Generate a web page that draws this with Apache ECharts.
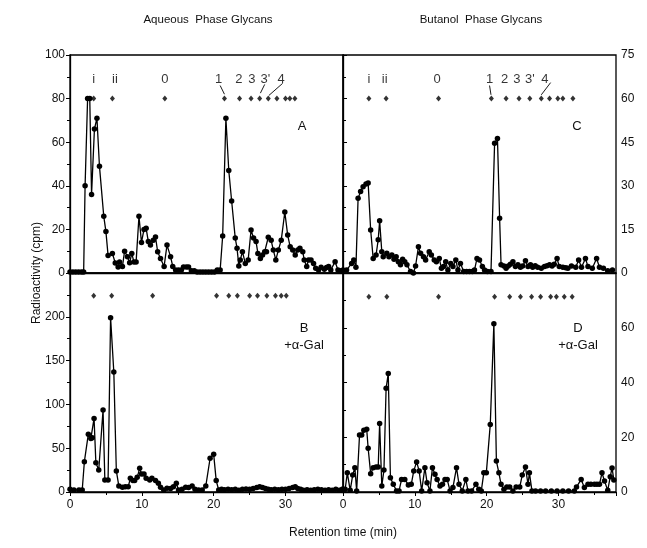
<!DOCTYPE html>
<html>
<head>
<meta charset="utf-8">
<script src="https://cdn.jsdelivr.net/npm/echarts@6/dist/echarts.min.js"></script>
<style>
  html, body { margin: 0; padding: 0; background: #fff; }
  #chart { width: 647px; height: 548px; }
</style>
</head>
<body>
<div id="chart"></div>
<script>
// retention time (min) / radioactivity (cpm) pairs
var aqueous = [[0,0.5],[0.4,0.5],[0.8,0.5],[1.2,0.5],[1.6,0.5],[1.9,0.5],[2.1,40],[2.45,80],[2.75,80],[3.0,36],[3.4,66],[3.75,71],
  [4.1,49],[4.7,26],[5.0,19],[5.3,8],[5.9,9],[6.3,4.6],[6.7,2.8],[6.9,5],[7.3,3],[7.6,10],[8.0,7.5],[8.3,4.7],[8.6,9],[8.9,5],
  [9.2,5],[9.6,26],[9.95,14],[10.3,20],[10.6,20.5],[10.9,14.4],[11.2,12.8],[11.6,15],[11.9,16.5],[12.2,9.8],[12.6,6.7],[13.1,3],
  [13.5,12.8],[14.0,7.5],[14.3,3],[14.7,1.4],[15.1,1.4],[15.5,1.4],[15.8,2.7],[16.2,2.7],[16.5,2.7],[16.9,1],[17.3,1],[17.7,0.5],
  [18.1,0.5],[18.5,0.5],[18.9,0.5],[19.3,0.5],[19.7,0.5],[20.1,0.5],[20.5,1.4],[20.9,1.4],[21.25,17],[21.7,71],[22.1,47],[22.5,33],
  [23.0,16],[23.25,11.4],[23.5,3.2],[23.7,6],[24.0,9.8],[24.4,4.4],[24.8,6],[25.2,19.7],[25.55,16],[25.9,14.4],[26.15,9],[26.5,6.7],
  [26.8,8.3],[27.1,9.8],[27.35,9.8],[27.6,16.4],[28.0,15],[28.3,10.5],[28.65,6],[29.0,10.5],[29.4,15],[29.9,28],[30.3,17.4],
  [30.65,12],[31.0,10.5],[31.35,8.3],[31.7,10.5],[32.0,11.3],[32.4,9.8],[32.6,6],[32.95,3],[33.2,6],[33.55,6],[33.9,4.4],[34.2,2.2],
  [34.6,1.4],[34.95,2.6],[35.4,1.7],[35.7,2.5],[36.0,3],[36.3,1.4],[36.9,5.2],[37.3,1.4],[37.7,1]];

var butanol = [[0,1],[0.5,1],[1.2,3.3],[1.5,4.5],[1.8,2],[2.1,25.7],[2.45,28],[2.8,29.7],[3.2,30.6],[3.5,31],[3.85,14.8],[4.2,5],
  [4.6,6.2],[4.9,11.4],[5.1,18],[5.4,7.3],[5.6,5.6],[6.1,6.8],[6.4,5.6],[6.8,6.2],[7.1,4.7],[7.4,5.6],[7.7,3.9],[8.0,2.8],[8.3,4.7],
  [8.6,3.9],[8.9,2.8],[9.4,0.5],[9.8,0],[10.1,2.4],[10.5,9],[10.8,6.8],[11.2,5.6],[11.5,4.5],[12,7.3],[12.3,6.2],[12.7,4.5],[13,3.9],
  [13.4,5],[13.7,1.6],[14,2.2],[14.3,3.9],[14.6,1],[15,3.3],[15.3,2.2],[15.7,4.5],[16,1],[16.35,3.3],[16.8,0.5],[17.2,0.5],[17.6,0.5],
  [18.0,0.5],[18.3,1],[18.65,5],[19.0,4.5],[19.4,2.2],[19.7,1],[20.1,0.5],[20.6,0.5],[21.1,44.6],[21.5,46.3],[21.8,18.8],[22.0,2.8],
  [22.4,2.4],[22.7,1.6],[23.0,2.4],[23.3,3],[23.65,3.9],[24.0,2.2],[24.35,2.8],[24.7,2],[25.0,2.4],[25.4,4.2],[25.75,2.2],[26.1,2.8],
  [26.4,2],[26.75,2.5],[27.1,2],[27.6,1.6],[28.05,2.2],[28.4,2.5],[28.75,2.8],[29.1,2.4],[29.4,3],[29.8,5],[30.1,2.2],[30.6,2],
  [31.0,1.8],[31.3,1.6],[31.8,2.4],[32.4,2],[32.8,4.5],[33.2,2],[33.75,5],[34.1,2.2],[34.7,1.6],[35.3,5],[35.7,2],[36.25,1.6],
  [36.85,0.8],[37.5,1]];

var aqueousGal = [[0,3],[0.55,2.3],[1.25,2.3],[1.7,2.3],[2.0,34.6],[2.55,66],[2.9,61],[3.1,62],[3.35,84],[3.6,33.5],[4.0,25],
  [4.6,93.6],[4.85,13.7],[5.3,13.7],[5.65,199],[6.1,137],[6.45,24],[6.8,6.8],[7.3,5.3],[7.7,6],[8.1,6],[8.4,15.6],[8.75,13],[9.0,13],
  [9.35,16.7],[9.7,27],[9.95,20.5],[10.3,20.5],[10.6,15.6],[11.1,13.7],[11.4,15.6],[11.9,13],[12.3,10],[12.6,5.4],[13.05,2.3],
  [13.5,4.2],[14.0,4],[14.4,6],[14.8,10],[15.1,2.3],[15.6,3],[16.1,5.4],[16.5,5],[17.0,6.8],[17.4,3],[17.9,2.3],[18.4,2.3],[18.9,6.8],
  [19.5,38.5],[20.0,43],[20.35,13],[20.7,2.3],[21.1,3],[21.5,2.5],[22,3],[22.5,2.5],[23,3],[23.5,2],[24,3],[24.5,3.5],[25,3],
  [25.5,4],[26,5],[26.4,6],[26.8,5],[27.2,4],[27.6,3],[28,2.5],[28.5,3],[29,2.5],[29.5,3],[30,3],[30.5,4],[31,5],[31.35,6],[31.7,4],
  [32.1,3],[32.5,2],[33,2.5],[33.5,2],[34,2.5],[34.5,3],[35,2.5],[35.5,2],[36,2.5],[36.5,2],[37,3],[37.5,2],[37.9,3]];

var butanolGal = [[0,1],[0.3,1],[0.6,7],[1.0,0.6],[1.35,6.2],[1.65,8.9],[1.9,0.4],[2.3,20.8],[2.6,20.8],[2.9,22.6],[3.3,22.9],
  [3.5,16],[3.85,6.7],[4.2,8.9],[4.6,9.1],[4.9,9.1],[5.1,25],[5.4,2.2],[5.7,8],[6.0,37.9],[6.3,43.3],[6.6,5.2],[7.0,2.8],[7.45,0.4],
  [7.8,0.4],[8.15,4.6],[8.6,4.6],[9.1,2.6],[9.5,2.8],[9.85,7.7],[10.25,11],[10.6,7.7],[10.95,0.4],[11.4,8.9],[11.7,3.4],[12.1,0.4],
  [12.45,8.9],[12.8,6.5],[13.1,4.6],[13.5,2.2],[13.85,2.8],[14.2,4.6],[14.5,4.6],[14.9,0.4],[15.3,1.6],[15.8,8.9],[16.15,2.8],
  [16.6,0.4],[17.1,4.6],[17.4,0.4],[17.9,0.4],[18.5,2.8],[18.9,1],[19.25,0.4],[19.6,7],[19.95,7],[20.5,24.7],[21.0,61.5],[21.35,11.3],
  [21.7,7],[22.0,2.8],[22.4,1],[22.8,1.8],[23.2,1.8],[23.65,0.4],[24.1,1.8],[24.6,1.8],[24.95,6.2],[25.4,9.1],[25.75,2.8],[25.95,7],
  [26.3,0.4],[26.8,0.4],[27.5,0.4],[28.2,0.4],[29,0.4],[29.8,0.4],[30.6,0.4],[31.4,0.4],[32.2,0.4],[32.5,1.8],[33.15,4.6],[33.6,1.6],
  [34.1,2.8],[34.5,2.8],[35.0,2.8],[35.35,2.8],[35.7,2.8],[36.05,7],[36.4,4],[36.85,0.6],[37.2,5.6],[37.45,8.8],[37.7,4.4]];

// elution positions of the standards (min)
var stdA = [3.3, 5.9, 13.2, 21.5, 23.6, 25.2, 26.4, 27.6, 28.8, 30.0, 30.6, 31.3];
var stdB = [3.3, 5.8, 11.5, 20.4, 22.1, 23.3, 25.0, 26.1, 27.4, 28.6, 29.4, 30.1];
var stdC = [3.6, 6.0, 13.3, 20.65, 22.7, 24.5, 26.0, 27.6, 28.75, 29.9, 30.6, 32.0];
var stdD = [3.6, 6.1, 13.3, 21.1, 23.2, 24.7, 26.25, 27.5, 28.9, 29.7, 30.8, 31.9];
var stdNames = ['i', 'ii', '0', '1', '2', '3', "3'", '4'];
var stdLabelA = [3.3, 6.25, 13.2, 20.7, 23.5, 25.3, 27.2, 29.4];
var stdLabelC = [3.6, 5.8, 13.1, 20.4, 22.5, 24.2, 26.0, 28.1];

var xTicks = { min: 0, max: 38, interval: 10 };
var yTL = { min: 0, max: 100, interval: 20 };
var yTR = { min: 0, max: 75, interval: 15 };
var yBL = { min: 0, max: 250, interval: 50 };
var yBR = { min: 0, max: 80, interval: 20 };

var FONT = 'Liberation Sans';
var chart = echarts.init(document.getElementById('chart'));

function grid(left, top, h) {
  return { left: left, top: top, width: 273, height: h, show: true, borderColor: '#000', borderWidth: 1.3, containLabel: false };
}
function xAx(i, labels) {
  return {
    type: 'value', gridIndex: i, min: xTicks.min, max: xTicks.max, interval: xTicks.interval,
    axisLine: { show: true, lineStyle: { color: '#000', width: 1.3 } },
    axisTick: { show: labels, length: 4, lineStyle: { color: '#000' } },
    minorTick: { show: labels, splitNumber: 2, length: 3, lineStyle: { color: '#000' } },
    splitLine: { show: false },
    axisLabel: { show: labels, color: '#111', fontFamily: FONT, fontSize: 12, margin: 7,
      formatter: function (v) { return v > 30 ? '' : v; } }
  };
}
function yAx(i, sc, pos, hideTop) {
  return {
    type: 'value', gridIndex: i, min: sc.min, max: sc.max, interval: sc.interval, position: pos,
    axisLine: { show: true, lineStyle: { color: '#000', width: 1.3 } },
    axisTick: { show: true, length: 4, lineStyle: { color: '#000' } },
    minorTick: { show: true, splitNumber: 2, length: 3, lineStyle: { color: '#000' } },
    splitLine: { show: false },
    axisLabel: { color: '#111', fontFamily: FONT, fontSize: 12, margin: 5,
      formatter: function (v) { return (hideTop && v === sc.max) ? '' : v; } }
  };
}
function trace(data, i) {
  return {
    type: 'line', xAxisIndex: i, yAxisIndex: i, data: data, symbol: 'circle', symbolSize: 5.5,
    lineStyle: { color: '#000', width: 1.3 }, itemStyle: { color: '#000' }, z: 3
  };
}
function stds(xs, y, i) {
  return {
    type: 'scatter', xAxisIndex: i, yAxisIndex: i, symbol: 'diamond', symbolSize: [5, 6],
    data: xs.map(function (x) { return [x, y]; }), itemStyle: { color: '#000' }
  };
}
function stdLabels(xs, y, i) {
  return {
    type: 'scatter', xAxisIndex: i, yAxisIndex: i, symbolSize: 1, itemStyle: { color: 'transparent' },
    data: xs.map(function (x, k) { return { value: [x, y], name: stdNames[k] }; }),
    label: { show: true, position: 'inside', formatter: '{b}', color: '#000', fontFamily: FONT, fontSize: 13 }
  };
}
function leader(p, i) {
  return {
    type: 'line', xAxisIndex: i, yAxisIndex: i, data: p, symbol: 'none',
    lineStyle: { color: '#000', width: 0.9 }
  };
}
function txt(x, y, s, size, rot) {
  return { type: 'text', x: x, y: y, rotation: rot || 0,
    style: { text: s, font: size + 'px "' + FONT + '"', fill: '#111', align: 'center', verticalAlign: 'middle' } };
}

var option = {
  backgroundColor: '#fff',
  animation: false,
  grid: [grid(70, 55, 218), grid(343, 55, 218), grid(70, 273, 219), grid(343, 273, 219)],
  xAxis: [xAx(0, false), xAx(1, false), xAx(2, true), xAx(3, true)],
  yAxis: [yAx(0, yTL, 'left', false), yAx(1, yTR, 'right', false), yAx(2, yBL, 'left', true), yAx(3, yBR, 'right', true)],
  series: [
    trace(aqueous, 0), trace(butanol, 1), trace(aqueousGal, 2), trace(butanolGal, 3),
    stds(stdA, 80, 0), stds(stdC, 60, 1), stds(stdB, 224, 2), stds(stdD, 71.3, 3),
    stdLabels(stdLabelA, 89, 0), stdLabels(stdLabelC, 66.5, 1),
    leader([[20.9, 86], [21.5, 82]], 0), leader([[27.1, 86.5], [26.5, 82.5]], 0), leader([[29.6, 87], [27.7, 81.5]], 0),
    leader([[20.4, 64.5], [20.6, 61.3]], 1), leader([[28.9, 65.5], [27.6, 61.3]], 1)
  ],
  graphic: [
    txt(208, 20, 'Aqueous  Phase Glycans', 11.5),
    txt(481, 20, 'Butanol  Phase Glycans', 11.5),
    txt(302, 126, 'A', 13),
    txt(577, 126, 'C', 13),
    txt(304, 328, 'B', 13),
    txt(304, 345, '+\u03b1-Gal', 13),
    txt(578, 328, 'D', 13),
    txt(578, 345, '+\u03b1-Gal', 13),
    txt(343, 533, 'Retention time (min)', 12),
    txt(37, 273, 'Radioactivity (cpm)', 12, Math.PI / 2)
  ]
};
chart.setOption(option);
</script>
</body>
</html>
